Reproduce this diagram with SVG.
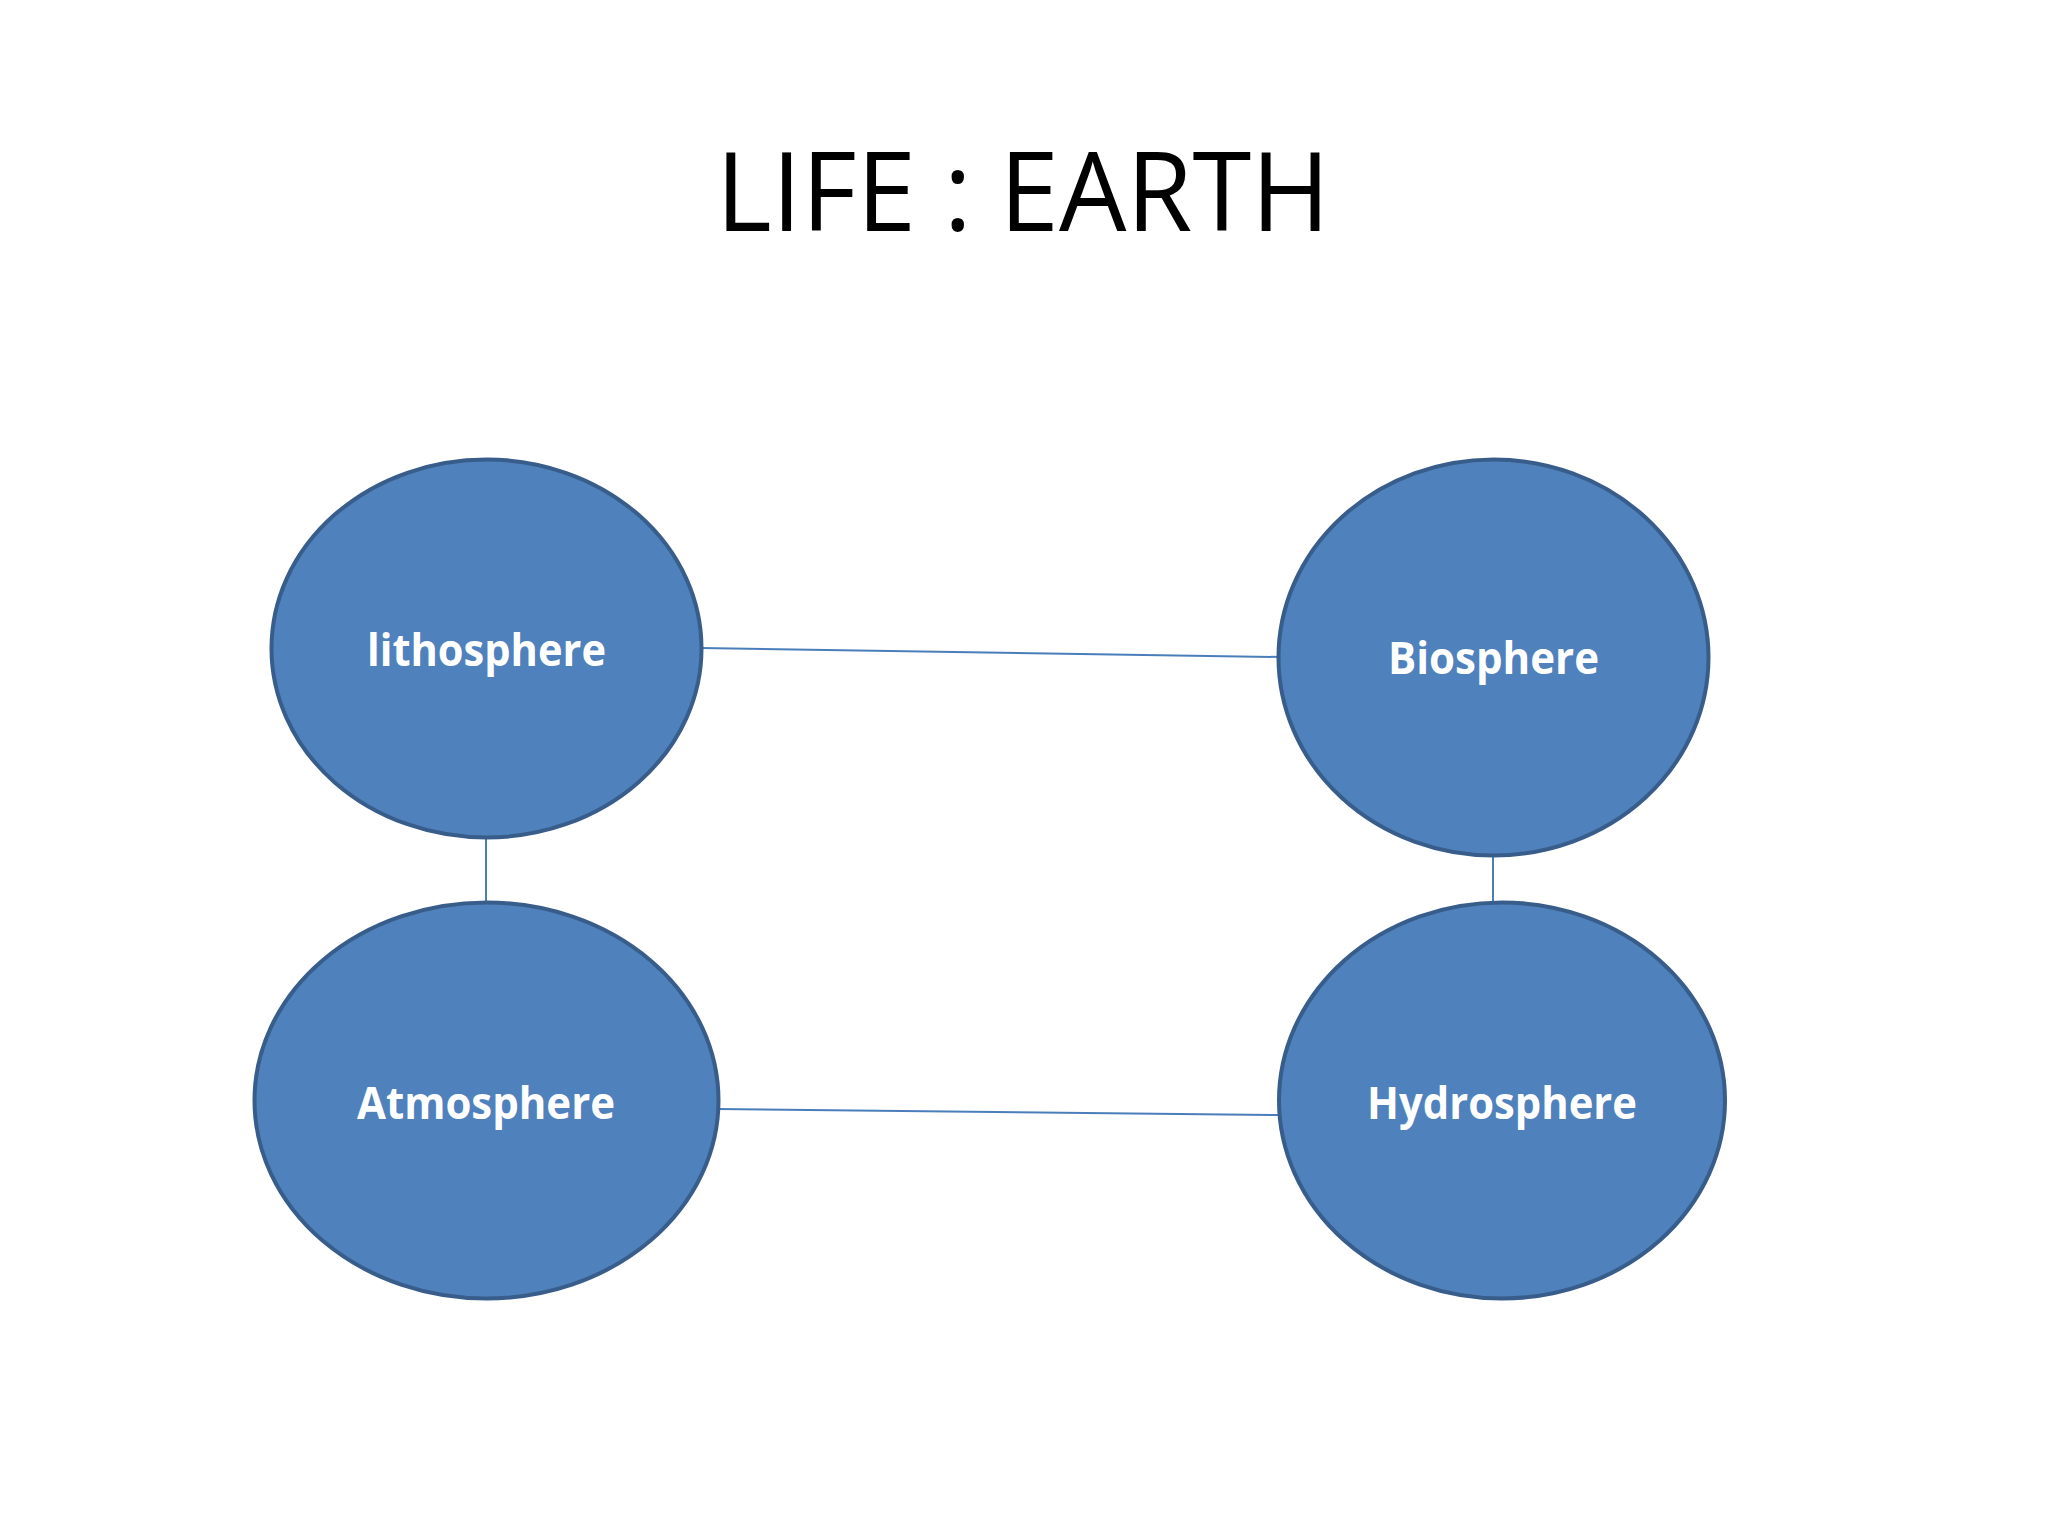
<svg xmlns="http://www.w3.org/2000/svg" width="2048" height="1536" viewBox="0 0 2048 1536">
<style>
.node{fill:#4F81BD;stroke:#385D8A;stroke-width:4}
.lbl{font-family:"Open Sans","Liberation Sans",sans-serif;font-weight:bold;font-size:44px;fill:#FFFFFF;text-anchor:middle}
.title{font-family:"Open Sans","Liberation Sans",sans-serif;font-size:109px;fill:#000000;text-anchor:middle}
.conn{stroke:#4A7EBB;stroke-width:2;fill:none}
</style>
<rect width="2048" height="1536" fill="#FFFFFF"/>
<text class="title" x="1023" y="231" textLength="614" lengthAdjust="spacingAndGlyphs">LIFE : EARTH</text>
<g id="connectors">
<line class="conn" x1="701" y1="648" x2="1279" y2="657"/>
<line class="conn" x1="486" y1="837" x2="486" y2="903"/>
<line class="conn" x1="1493" y1="855" x2="1493" y2="903"/>
<line class="conn" x1="718" y1="1109" x2="1279" y2="1115"/>
</g>
<g id="lithosphere">
<ellipse class="node" cx="486.5" cy="648.5" rx="215" ry="189"/>
<text class="lbl" x="486.5" y="666" textLength="239" lengthAdjust="spacingAndGlyphs">lithosphere</text>
</g>
<g id="biosphere">
<ellipse class="node" cx="1493.5" cy="657.5" rx="215" ry="198"/>
<text class="lbl" x="1493.5" y="674" textLength="211" lengthAdjust="spacingAndGlyphs">Biosphere</text>
</g>
<g id="atmosphere">
<ellipse class="node" cx="486.5" cy="1100.5" rx="232" ry="198"/>
<text class="lbl" x="486" y="1119" textLength="258" lengthAdjust="spacingAndGlyphs">Atmosphere</text>
</g>
<g id="hydrosphere">
<ellipse class="node" cx="1502" cy="1100.5" rx="223" ry="198"/>
<text class="lbl" x="1502" y="1119" textLength="270" lengthAdjust="spacingAndGlyphs">Hydrosphere</text>
</g>
</svg>
